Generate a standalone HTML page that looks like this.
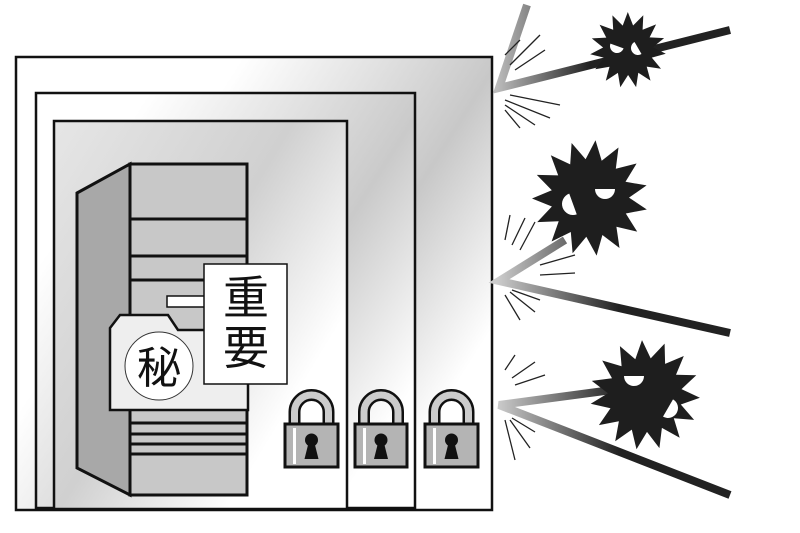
<!DOCTYPE html>
<html><head><meta charset="utf-8"><style>
html,body{margin:0;padding:0;background:#fff;width:800px;height:533px;overflow:hidden}
svg{display:block}
text{font-family:"Liberation Sans","Noto Sans CJK JP",sans-serif}
</style></head><body>
<svg id="s" width="800" height="533" viewBox="0 0 800 533" xmlns="http://www.w3.org/2000/svg">
<defs>
<linearGradient id="bg1" x1="0" y1="0" x2="1" y2="0.6">
<stop offset="0.35" stop-color="#fff"/><stop offset="0.75" stop-color="#c8c8c8"/><stop offset="1" stop-color="#fff"/></linearGradient>
<linearGradient id="bg2" x1="0" y1="0" x2="1" y2="0.7">
<stop offset="0.2" stop-color="#fff"/><stop offset="0.7" stop-color="#cacaca"/><stop offset="1" stop-color="#fff"/></linearGradient>
<linearGradient id="bg3" x1="0" y1="0" x2="1" y2="0.8">
<stop offset="0" stop-color="#e6e6e6"/><stop offset="0.5" stop-color="#d0d0d0"/><stop offset="0.85" stop-color="#fff"/></linearGradient>
<linearGradient id="lg1" x1="497" y1="0" x2="730" y2="0" gradientUnits="userSpaceOnUse"><stop offset="0" stop-color="#bbb"/><stop offset="0.4" stop-color="#222"/></linearGradient>
<linearGradient id="lg2" x1="497" y1="0" x2="700" y2="0" gradientUnits="userSpaceOnUse"><stop offset="0" stop-color="#ccc"/><stop offset="0.6" stop-color="#222"/></linearGradient>
</defs>
<rect x="16" y="57" width="476" height="453" fill="url(#bg1)" stroke="#111" stroke-width="2.5"/>
<rect x="36" y="93" width="379" height="415" fill="url(#bg2)" stroke="#111" stroke-width="2.5"/>
<rect x="54" y="121" width="293" height="388" fill="url(#bg3)" stroke="#111" stroke-width="2.5"/>
<polygon points="77,193 130,164 130,495 77,468" fill="#a8a8a8" stroke="#111" stroke-width="3"/>
<rect x="130" y="164" width="117" height="331" fill="#c8c8c8" stroke="#111" stroke-width="3"/>
<g stroke="#111" stroke-width="3">
<line x1="130" y1="219" x2="247" y2="219"/><line x1="130" y1="256" x2="247" y2="256"/><line x1="130" y1="280" x2="247" y2="280"/>
<line x1="130" y1="423" x2="247" y2="423"/><line x1="130" y1="434" x2="247" y2="434"/><line x1="130" y1="444" x2="247" y2="444"/><line x1="130" y1="454" x2="247" y2="454"/>
</g>
<rect x="167" y="296" width="40" height="11" fill="#fff" stroke="#111" stroke-width="1.5"/>
<polygon points="110,328 120,315 168,315 178,330 248,330 248,410 110,410" fill="#eee" stroke="#111" stroke-width="2.5"/>
<circle cx="159" cy="366" r="34" fill="#fff" stroke="#333" stroke-width="1"/>
<text x="159" y="383" font-size="44" text-anchor="middle" fill="#111">秘</text>
<rect x="204" y="264" width="83" height="120" fill="#fff" stroke="#111" stroke-width="1.5"/>
<text x="246" y="314" font-size="46" text-anchor="middle" fill="#111">重</text>
<text x="246" y="364" font-size="46" text-anchor="middle" fill="#111">要</text>
<g id="locks"></g>
<g id="att"></g>
</svg>
<script>
const NS="http://www.w3.org/2000/svg";
function el(p,t,a){const e=document.createElementNS(NS,t);for(const k in a)e.setAttribute(k,a[k]);p.appendChild(e);return e;}
const L=document.getElementById('locks');
[[285,338],[355,407],[425,478]].forEach(([a,b])=>{
 const c=(a+b)/2, w=(b-a);
 el(L,'path',{d:`M${c-17} 426 V412 A17 17 0 0 1 ${c+17} 412 V426`,fill:'none',stroke:'#111','stroke-width':12});
 el(L,'path',{d:`M${c-17} 426 V412 A17 17 0 0 1 ${c+17} 412 V426`,fill:'none',stroke:'#ccc','stroke-width':7});
 el(L,'rect',{x:a,y:424,width:w,height:43,fill:'#b4b4b4',stroke:'#111','stroke-width':3});
 el(L,'rect',{x:a+8,y:428,width:3,height:36,fill:'#fff'});
 el(L,'circle',{cx:c,cy:440,r:6.5,fill:'#111'});
 el(L,'polygon',{points:`${c-3},443 ${c+3},443 ${c+7},459 ${c-7},459`,fill:'#111'});
});
const A=document.getElementById('att');
function spikes(pts,g){el(A,'polyline',{points:pts,fill:'none',stroke:g,'stroke-width':8,'stroke-linejoin':'miter'});}
spikes("527,5 499,88 730,30","url(#lg1)");
spikes("565,240 499,281 730,333","url(#lg2)");
spikes("612,390 499,405 730,495","url(#lg2)");
function star(cx,cy,R,r,n,rot){let p=[];for(let i=0;i<2*n;i++){const ang=rot+Math.PI*i/n;const rr=i%2?r:R;p.push((cx+rr*Math.cos(ang)).toFixed(1)+','+(cy+rr*Math.sin(ang)).toFixed(1));}el(A,'polygon',{points:p.join(' '),fill:'#1e1e1e'});}
star(628,50,38,25,15,0.1);
star(590,198,58,39,15,0.2);
star(645,395,55,37,15,0.05);
function eye(cx,cy,r,rot){el(A,'path',{d:`M${cx-r} ${cy} A${r} ${r} 0 0 0 ${cx+r} ${cy} Z`,fill:'#fff',transform:`rotate(${rot} ${cx} ${cy})`});}
eye(617,46,7,20);eye(638,48,7,60);
eye(605,189,10,0);eye(573,204,11,70);
eye(634,376,10,0);eye(668,408,10,-60);
const B=[[[505,55],[520,40]],[[510,65],[540,35]],[[515,70],[545,50]],[[510,95],[560,105]],[[505,100],[550,118]],[[505,105],[535,125]],[[505,110],[520,128]],
[[505,240],[510,215]],[[512,245],[525,218]],[[520,250],[535,222]],[[540,265],[575,255]],[[540,275],[575,273]],[[505,295],[520,320]],[[510,292],[535,312]],[[512,290],[540,300]],
[[505,370],[515,355]],[[512,378],[535,362]],[[515,385],[545,375]],[[505,420],[515,460]],[[510,420],[530,448]],[[512,418],[535,432]]];
B.forEach(([p,q])=>el(A,'line',{x1:p[0],y1:p[1],x2:q[0],y2:q[1],stroke:'#222','stroke-width':1.3}));
</script>
</body></html>
